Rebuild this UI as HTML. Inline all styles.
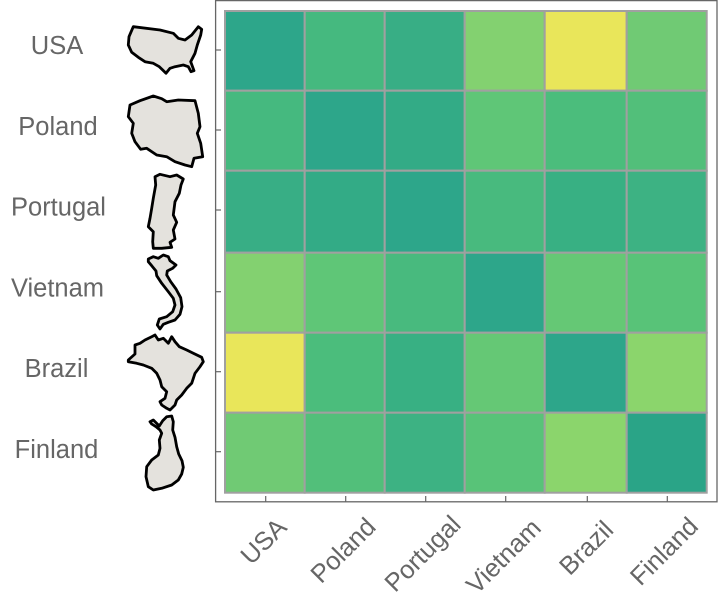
<!DOCTYPE html>
<html><head><meta charset="utf-8"><style>
html,body{margin:0;padding:0;background:#fff;}
svg{display:block;}
text{font-family:"Liberation Sans",Arial,sans-serif;font-size:25.5px;fill:#666;}
</style></head><body>
<svg width="720" height="606" viewBox="0 0 720 606" xmlns="http://www.w3.org/2000/svg">
<rect x="0" y="0" width="720" height="606" fill="#fff"/>
<g stroke="#a0a0a0" stroke-width="2">
<rect x="225" y="11" width="79.7" height="79.7" fill="#2da68a"/>
<rect x="304.7" y="11" width="80" height="79.7" fill="#45b97f"/>
<rect x="384.7" y="11" width="80" height="79.7" fill="#38ae85"/>
<rect x="464.7" y="11" width="80" height="79.7" fill="#83d170"/>
<rect x="544.7" y="11" width="82" height="79.7" fill="#e9e65a"/>
<rect x="626.7" y="11" width="80" height="79.7" fill="#70ca74"/>
<rect x="225" y="90.7" width="79.7" height="80" fill="#45b97f"/>
<rect x="304.7" y="90.7" width="80" height="80" fill="#2da68a"/>
<rect x="384.7" y="90.7" width="80" height="80" fill="#33ab86"/>
<rect x="464.7" y="90.7" width="80" height="80" fill="#5fc677"/>
<rect x="544.7" y="90.7" width="82" height="80" fill="#4bbd7c"/>
<rect x="626.7" y="90.7" width="80" height="80" fill="#52bf7a"/>
<rect x="225" y="170.7" width="79.7" height="82" fill="#38ae85"/>
<rect x="304.7" y="170.7" width="80" height="82" fill="#33ab86"/>
<rect x="384.7" y="170.7" width="80" height="82" fill="#2da68a"/>
<rect x="464.7" y="170.7" width="80" height="82" fill="#48ba7e"/>
<rect x="544.7" y="170.7" width="82" height="82" fill="#38b083"/>
<rect x="626.7" y="170.7" width="80" height="82" fill="#3db283"/>
<rect x="225" y="252.7" width="79.7" height="80" fill="#83d170"/>
<rect x="304.7" y="252.7" width="80" height="80" fill="#5fc677"/>
<rect x="384.7" y="252.7" width="80" height="80" fill="#48ba7e"/>
<rect x="464.7" y="252.7" width="80" height="80" fill="#2da68a"/>
<rect x="544.7" y="252.7" width="82" height="80" fill="#65c875"/>
<rect x="626.7" y="252.7" width="80" height="80" fill="#58c378"/>
<rect x="225" y="332.7" width="79.7" height="80" fill="#e9e65a"/>
<rect x="304.7" y="332.7" width="80" height="80" fill="#4bbd7c"/>
<rect x="384.7" y="332.7" width="80" height="80" fill="#38b083"/>
<rect x="464.7" y="332.7" width="80" height="80" fill="#65c875"/>
<rect x="544.7" y="332.7" width="82" height="80" fill="#2da68a"/>
<rect x="626.7" y="332.7" width="80" height="80" fill="#8bd56c"/>
<rect x="225" y="412.7" width="79.7" height="80" fill="#70ca74"/>
<rect x="304.7" y="412.7" width="80" height="80" fill="#52bf7a"/>
<rect x="384.7" y="412.7" width="80" height="80" fill="#3db283"/>
<rect x="464.7" y="412.7" width="80" height="80" fill="#58c378"/>
<rect x="544.7" y="412.7" width="82" height="80" fill="#8bd56c"/>
<rect x="626.7" y="412.7" width="80" height="80" fill="#2aa487"/>
</g>
<rect x="215.6" y="0.6" width="501.4" height="501.2" fill="none" stroke="#666" stroke-width="1.3"/>
<g stroke="#666" stroke-width="1.2">
<line x1="216" y1="50" x2="221" y2="50"/>
<line x1="216" y1="130" x2="221" y2="130"/>
<line x1="216" y1="210" x2="221" y2="210"/>
<line x1="216" y1="291.7" x2="221" y2="291.7"/>
<line x1="216" y1="371.7" x2="221" y2="371.7"/>
<line x1="216" y1="451.7" x2="221" y2="451.7"/>
<line x1="265.7" y1="501.5" x2="265.7" y2="496"/>
<line x1="345.7" y1="501.5" x2="345.7" y2="496"/>
<line x1="425.7" y1="501.5" x2="425.7" y2="496"/>
<line x1="505.7" y1="501.5" x2="505.7" y2="496"/>
<line x1="587.3" y1="501.5" x2="587.3" y2="496"/>
<line x1="667.3" y1="501.5" x2="667.3" y2="496"/>
</g>
<g text-anchor="middle">
<text x="57" y="54">USA</text>
<text x="58" y="135">Poland</text>
<text x="58.5" y="215.5">Portugal</text>
<text x="57.5" y="296.5">Vietnam</text>
<text x="56.5" y="377">Brazil</text>
<text x="56.5" y="458">Finland</text>
</g>
<g text-anchor="middle" dominant-baseline="central">
<text x="264" y="541.7" transform="rotate(-45 264 541.7)">USA</text>
<text x="343.5" y="550.8" transform="rotate(-45 343.5 550.8)">Poland</text>
<text x="423" y="554" transform="rotate(-45 423 554)">Portugal</text>
<text x="504" y="556.7" transform="rotate(-45 504 556.7)">Vietnam</text>
<text x="586.7" y="548.3" transform="rotate(-45 586.7 548.3)">Brazil</text>
<text x="664.5" y="551.7" transform="rotate(-45 664.5 551.7)">Finland</text>
</g>
<g fill="#e4e2dd" stroke="#000" stroke-width="2.8" stroke-linejoin="round">
<polygon points="133.3,26.7 160,30 173.3,33.3 178.3,38.3 185,40 191.7,35 198.3,26.7 201.7,29.3 200.7,35 197.3,45 195,53.3 190.7,61.7 194,70.7 191,71.7 188.3,66.7 183.3,65 175,66.7 170,68.3 166,73.3 162.7,70 159.3,66.7 153.3,63.3 145,61.7 138.3,57.3 131.7,52.3 128.3,45 129,36.7"/>
<polygon points="130,105 140,100.7 153.3,96 161.7,98.7 166.7,101.7 178.3,100 195,100.7 198.3,113.3 200,126.7 197.3,133.3 200.7,143.3 202.7,156.7 194,158.3 191.7,166.7 185,165 175,161.7 166.7,156.7 156.7,155 146.7,148.3 140.7,149.3 135,141.7 131.7,133.3 133.3,123.3 128.3,116.7"/>
<polygon points="155,176.7 160,174.3 170,176.7 176.7,175 183.3,179 181,185 179.3,193.3 175,201.7 173.3,215 176.7,222.3 173.3,230 175,239 170,242.3 171.7,247.3 161.7,248.3 153.3,248.3 152.7,241.7 153.3,231.7 148.3,226.7 150,218.3 151.7,208.3 153.3,198.3 155.7,185"/>
<polygon points="148.3,259 153.3,256.7 158.3,258.3 163.3,255 168.3,256.7 170,260.7 176,265 172.7,268.3 167.3,271 166.7,275 170.7,281.7 176,289 180.7,297.7 182,306.7 180,314.3 175,320 168.3,322.3 163.3,324.3 160,329 157.3,325 159.3,319 166.7,316.7 172.7,311.7 175,305 173.3,298.3 168.3,291.7 161.7,283.3 156.7,275.7 156,271 151.7,265.7 148.3,261.7"/>
<polygon points="128.3,360 135,354 135,345 140,343.3 145,340 151.7,336.7 155,335 158.3,340 163.3,338.3 168.3,343.3 171.7,336.7 175,341.7 179.3,346.7 186.7,350 193.3,353.3 201.7,357.3 203.3,361.7 200,366.7 195,373.3 191.7,383.3 186.7,388.3 181.7,395 176.7,400 175,405 170,410 166.7,408.3 161.7,405 160,401.7 165,398.3 166.7,391.7 161.7,386.7 160,380 156.7,373.3 151.7,368.3 143.3,365 136.7,363.3 128.3,361.7"/>
<polygon points="150,421.7 153.3,420 159.3,426 162.7,420.7 166.7,416.7 171.7,416 173.3,421.7 172.7,430 175,437.3 176.7,446.7 178.7,454 182,460.7 183.3,467.3 181.7,474 178.3,480 171.7,485 161.7,488.3 153.3,490 148.3,486.7 146,476.7 146.7,466.7 151.7,460 158.3,455 160,448.3 159.3,440 161.7,433.3 160,430 156,426.7 151.7,424"/>
</g>
</svg>
</body></html>
